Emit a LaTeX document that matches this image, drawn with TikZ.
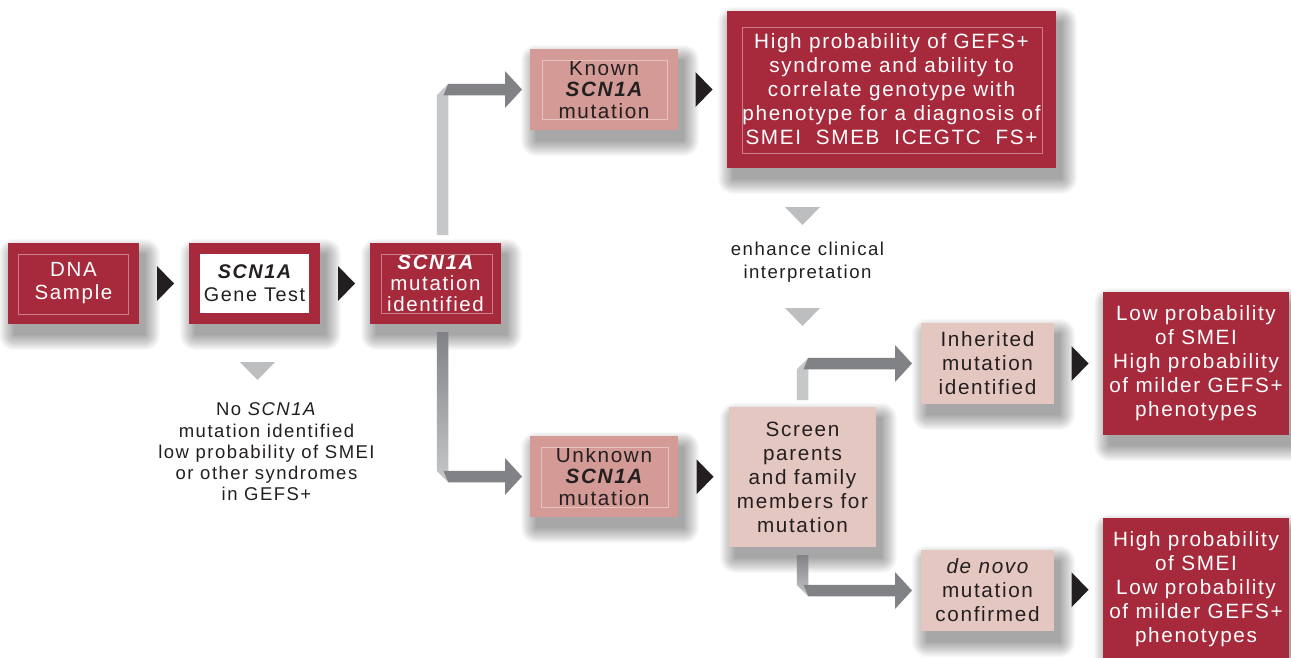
\documentclass[tikz,border=0pt]{standalone}
\usepackage{fontspec}
\setmainfont{Liberation Sans}[LetterSpace=8]
\usetikzlibrary{calc}
\definecolor{boxred}{HTML}{A72A3C}
\definecolor{boxpink}{HTML}{D49B96}
\definecolor{boxlight}{HTML}{E5C7C1}
\definecolor{bardark}{HTML}{808285}
\definecolor{barlight}{HTML}{C6C7C9}
\definecolor{tri}{HTML}{231F20}
\definecolor{trigray}{HTML}{BDBEC0}
\definecolor{txt}{HTML}{231F20}
\pgfdeclarelayer{bg}
\pgfsetlayers{bg,main}
\newcommand{\softshadow}[1]{%
  \foreach \k in {0,...,15}{%
    \fill[black,opacity=0.025,rounded corners=\k pt]
      ($(#1.north west)+(6-\k,11-\k)$) rectangle ($(#1.south east)+(6+\k,11+\k)$);
  }%
}
\begin{document}
\begin{tikzpicture}[x=1pt,y=-1pt,
  base/.style={inner sep=0pt,outer sep=0pt,align=center,
    font=\fontsize{20.7}{24}\selectfont},
  redbox/.style={base,fill=boxred,text=white},
  pinkbox/.style={base,fill=boxpink,text=txt},
  lightbox/.style={base,fill=boxlight,text=txt},
  sz/.style 2 args={minimum width=#1,minimum height=#2},
  redframe/.style={draw=boxred!60!white,line width=0.6pt},
  pinkframe/.style={draw=boxpink!60!white,line width=0.6pt},
  blacktri/.style={fill=tri},
  graytri/.style={fill=trigray},
  plain/.style={inner sep=0pt,align=center,text=txt}
]
\useasboundingbox (0,0) rectangle (1291,657);
\begin{pgfonlayer}{bg}
\fill[white] (0,0) rectangle (1291,657);
\end{pgfonlayer}

% boxes
\node[redbox,sz={131}{81},font=\fontsize{20.5}{23}\selectfont] (dna) at (73.5,283.5) {DNA\\Sample};
\node[base,fill=boxred,text=txt,sz={131}{81},font=\fontsize{19.8}{23}\selectfont,
  path picture={\fill[white] ([xshift=11pt,yshift=-11pt]path picture bounding box.north west) rectangle ([xshift=-11pt,yshift=11pt]path picture bounding box.south east);}]
  (gene) at (254.5,283.5) {\bfseries\itshape SCN1A\\Gene Test};
\node[redbox,sz={131}{81},font=\fontsize{20.5}{21}\selectfont] (ident) at (435.5,283.5) {\bfseries\itshape SCN1A\\mutation\\identified};
\node[pinkbox,sz={148}{81},font=\fontsize{20.7}{21.5}\selectfont] (known) at (604,89.5) {Known\\\bfseries\itshape SCN1A\\mutation};
\node[redbox,sz={329}{157}] (big) at (891.5,89.5) {High probability of GEFS+\\syndrome and ability to\\correlate genotype with\\phenotype for a diagnosis of\\SMEI\ \ SMEB\ \ ICEGTC\ \ FS+};
\node[pinkbox,sz={148}{81},font=\fontsize{20.7}{21.5}\selectfont] (unknown) at (604,476.5) {Unknown\\\bfseries\itshape SCN1A\\mutation};
\node[lightbox,sz={147}{140}] (screen) at (802.5,477) {Screen\\parents\\and family\\members for\\mutation};
\node[lightbox,sz={133}{81}] (inher) at (987.5,363.5) {Inherited\\mutation\\identified};
\node[lightbox,sz={133}{81}] (denovo) at (987.5,590.5) {\itshape de novo\\mutation\\confirmed};
\node[redbox,sz={186}{143}] (r1) at (1196,363.5) {Low probability\\of SMEI\\High probability\\of milder GEFS+\\phenotypes};
\node[redbox,sz={186}{142}] (r2) at (1196,589) {High probability\\of SMEI\\Low probability\\of milder GEFS+\\phenotypes};

% soft shadows
\begin{pgfonlayer}{bg}
\foreach \b in {dna,gene,ident,known,big,unknown,screen,inher,denovo,r1,r2}{\softshadow{\b}}
\end{pgfonlayer}

% inner frames
\draw[redframe] ($(dna.north west)+(10,11)$) rectangle ($(dna.south east)+(-11,-10)$);
\draw[redframe] ($(ident.north west)+(11,11)$) rectangle ($(ident.south east)+(-9,-11)$);
\draw[pinkframe] ($(known.north west)+(12,11)$) rectangle ($(known.south east)+(-11,-11)$);
\draw[redframe] ($(big.north west)+(15,16)$) rectangle ($(big.south east)+(-14,-15)$);
\draw[pinkframe] ($(unknown.north west)+(11,11)$) rectangle ($(unknown.south east)+(-10,-10)$);

% free texts
\node[plain,font=\fontsize{18.5}{21.3}\selectfont] (nomut) at ($(gene.south)+(12,128)$)
  {No \textit{SCN1A}\\mutation identified\\low probability of SMEI\\or other syndromes\\in GEFS+};
\coordinate (gx) at (screen.north |- big.south);
\node[plain,font=\fontsize{18.6}{23}\selectfont] (enh) at ($(gx)+(5,94)$) {enhance clinical\\interpretation};

% black triangles between boxes
\foreach \a/\b/\n in {dna/gene/t1,gene/ident/t2,known/big/t3,unknown/screen/t4,inher/r1/t5,denovo/r2/t6}{
  \coordinate (\n) at ($(\a.east)!0.5!(\b.west)+(1.5,0)$);
  \fill[blacktri] ($(\n)+(-8.5,-17.5)$) -- ($(\n)+(8.5,0)$) -- ($(\n)+(-8.5,17.5)$) -- cycle;
}

% gray down triangles
\coordinate (g1) at ($(gene.south)+(3,47)$);
\coordinate (g2) at ($(gx)+(0,48)$);
\coordinate (g3) at ($(screen.north)+(0,-90)$);
\foreach \g in {g1,g2,g3}{
  \fill[graytri] ($(\g)+(-17.5,-9)$) -- ($(\g)+(17.5,-9)$) -- ($(\g)+(0,9)$) -- cycle;
}

% elbow arrows (bar bottom, corner, tip)
\newcommand{\elbowup}[3]{%
  \fill[barlight] ($(#1)+(-5.75,0)$) -- ($(#2)+(-5.75,5.75)$) -- ($(#2)+(5.75,-5.75)$) -- ($(#1)+(5.75,0)$) -- cycle;
  \fill[bardark] ($(#2)+(5.75,-5.75)$) -- ($(#3)+(-17,-5.75)$) -- ($(#3)+(-17,-18.5)$) -- (#3)
    -- ($(#3)+(-17,18.5)$) -- ($(#3)+(-17,5.75)$) -- ($(#2)+(5.75,5.75)$) -- ($(#2)+(1,5.75)$) -- cycle;
}
\newcommand{\elbowdown}[3]{%
  \shade[top color=bardark,bottom color=barlight] ($(#1)+(-5.75,0)$) -- ($(#2)+(-5.75,-5.75)$) -- ($(#2)+(5.75,5.75)$) -- ($(#1)+(5.75,0)$) -- cycle;
  \fill[bardark] ($(#2)+(5.75,5.75)$) -- ($(#3)+(-17,5.75)$) -- ($(#3)+(-17,18.5)$) -- (#3)
    -- ($(#3)+(-17,-18.5)$) -- ($(#3)+(-17,-5.75)$) -- ($(#2)+(5.75,-5.75)$) -- ($(#2)+(1,-5.75)$) -- cycle;
}
\coordinate (e1b) at ($(ident.north)+(7,-8)$);
\coordinate (e1c) at (e1b |- known.west);
\coordinate (e1h) at ($(known.west)+(-8,0)$);
\elbowup{e1b}{e1c}{e1h}
\coordinate (e2b) at ($(ident.south)+(7,8)$);
\coordinate (e2c) at (e2b |- unknown.west);
\coordinate (e2h) at ($(unknown.west)+(-8,0)$);
\elbowdown{e2b}{e2c}{e2h}
\coordinate (e3b) at ($(screen.north)+(0,-7)$);
\coordinate (e3c) at (e3b |- inher.west);
\coordinate (e3h) at ($(inher.west)+(-9,0)$);
\elbowup{e3b}{e3c}{e3h}
\coordinate (e4b) at ($(screen.south)+(0,8)$);
\coordinate (e4c) at (e4b |- denovo.west);
\coordinate (e4h) at ($(denovo.west)+(-9,0)$);
\elbowdown{e4b}{e4c}{e4h}
\end{tikzpicture}
\end{document}
